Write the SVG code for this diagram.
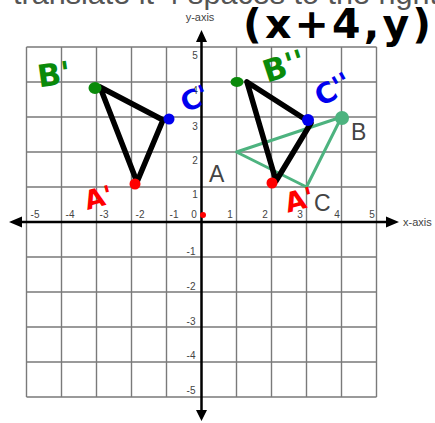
<svg xmlns="http://www.w3.org/2000/svg" width="435" height="423" viewBox="0 0 435 423">
<style>
.grid{stroke:#7a7a7a;stroke-width:1.4;fill:none}
.axis{stroke:#000;stroke-width:2.5;fill:none}
.tick{font-family:"Liberation Sans",Arial,sans-serif;font-size:10px;fill:#444}
.axl{font-family:"Liberation Sans",Arial,sans-serif;font-size:11px;fill:#444}
.vlab{font-family:"Liberation Sans",Arial,sans-serif;font-size:23px;fill:#444}
.hand{font-family:"DejaVu Sans",sans-serif;font-weight:bold}
.ink{stroke:#000;stroke-width:5.5;fill:none;stroke-linecap:round;stroke-linejoin:round}
</style>
<rect width="435" height="423" fill="#fff"/>
<text x="13" y="4" font-family="Liberation Sans,Arial,sans-serif" font-size="30" fill="#555" textLength="425" lengthAdjust="spacingAndGlyphs">translate it 4 spaces to the right</text>
<g id="grid">
<path class="grid" d="M26.5 47V397M61.5 47V397M96.5 47V397M131.5 47V397M166.5 47V397M236.5 47V397M271.5 47V397M306.5 47V397M341.5 47V397M376.5 47V397M26.5 47H376.5M26.5 82H376.5M26.5 117H376.5M26.5 152H376.5M26.5 187H376.5M26.5 257H376.5M26.5 292H376.5M26.5 327H376.5M26.5 362H376.5M26.5 397H376.5"/>
</g>
<g id="axes">
<path class="axis" d="M20 222H390M201.5 40V412"/>
<path d="M9 222L22 216.5V227.5Z M399 222L386 216.5V227.5Z M201.5 30L196 42H207Z M201.5 421L196 410H207Z" fill="#000"/>
<text class="axl" x="200" y="21" text-anchor="middle">y-axis</text>
<text class="axl" x="403" y="226">x-axis</text>
</g>
<g id="ticks" class="tick" text-anchor="middle">
<text x="35" y="218">-5</text><text x="70" y="218">-4</text><text x="104" y="218">-3</text><text x="140" y="218">-2</text><text x="174" y="218">-1</text><text x="194" y="218">0</text>
<text x="230" y="218">1</text><text x="265" y="218">2</text><text x="300" y="218">3</text><text x="337" y="218">4</text><text x="372" y="218">5</text>
<text x="195" y="59">5</text><text x="195" y="94">4</text><text x="195" y="130">3</text><text x="195" y="164">2</text><text x="195" y="198">1</text>
<text x="191" y="255">-1</text><text x="191" y="290">-2</text><text x="191" y="325">-3</text><text x="191" y="359">-4</text><text x="191" y="394">-5</text>
</g>
<g id="triangleABC">
<path d="M236.5 152L341.5 117L306.5 187Z" fill="none" stroke="#4db37f" stroke-width="3" stroke-linejoin="round"/>
<circle cx="342" cy="118" r="7" fill="#4db37f"/>
<text class="vlab" x="209" y="182">A</text>
<text class="vlab" x="351" y="140">B</text>
<text class="vlab" x="314" y="211">C</text>
</g>
<g id="triangleLeft">
<path class="ink" d="M100 87L163 120L137 182L100 87"/>
<ellipse cx="95" cy="88" rx="6.5" ry="6" fill="#0a8a0a"/>
<circle cx="169" cy="119" r="5.5" fill="#0000ee"/>
<circle cx="135" cy="184" r="5.5" fill="#ff0000"/>
</g>
<g id="triangleRight">
<path class="ink" d="M247 82L311 123L276 181L247 82"/>
<ellipse cx="237" cy="82" rx="6.5" ry="5" fill="#0a8a0a"/>
<circle cx="308" cy="120" r="6" fill="#0000ee"/>
<circle cx="272" cy="183" r="5.5" fill="#ff0000"/>
</g>
<circle cx="203" cy="215" r="3" fill="#ff0000"/>
<g id="handwriting" class="hand">
<text x="243" y="38" font-size="41" fill="#000" textLength="188" lengthAdjust="spacing">(x+4,y)</text>
<text x="37" y="86" font-size="31" fill="#0a8a0a" transform="rotate(-8 48 72)">B'</text>
<text x="180" y="110" font-size="27" fill="#0000ee" transform="rotate(-25 190 98)">C'</text>
<text x="84" y="207" font-size="26" fill="#ff0000" transform="rotate(-15 97 196)">A'</text>
<text x="262" y="78" font-size="31" fill="#0a8a0a" transform="rotate(-18 280 65)">B''</text>
<text x="312" y="101" font-size="28" fill="#0000ee" transform="rotate(-30 328 86)">C''</text>
<text x="284" y="209" font-size="27" fill="#ff0000" transform="rotate(-15 300 197)">A'</text>
</g>
</svg>
